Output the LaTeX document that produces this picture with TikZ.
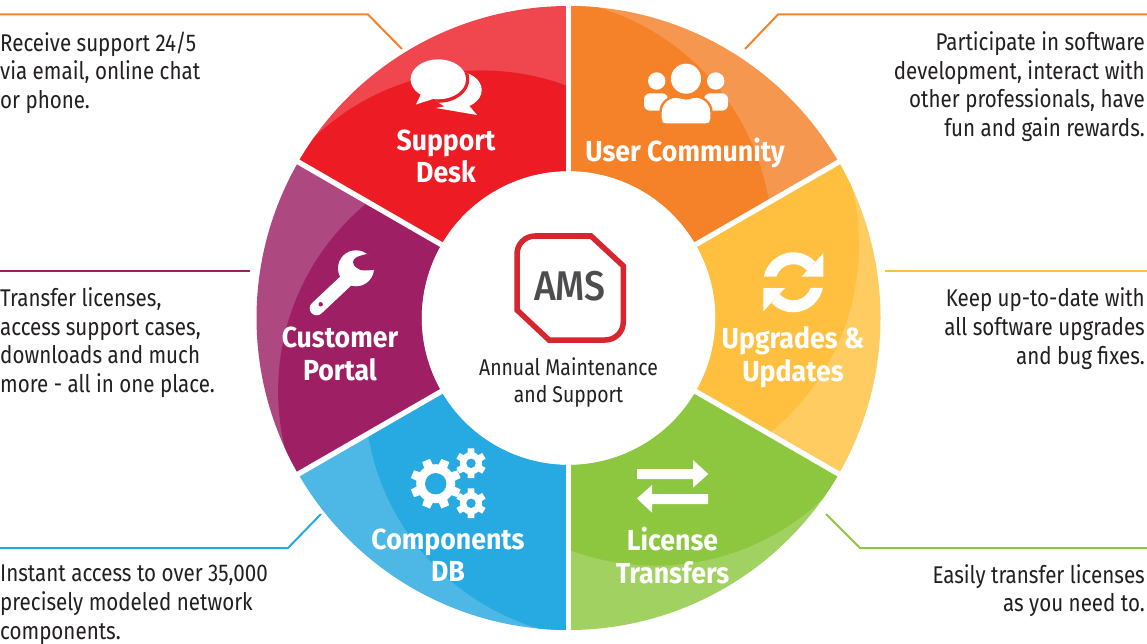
\documentclass[tikz,border=0pt]{standalone}
\usepackage{fontspec}
\setmainfont{Fira Sans}
\newfontfamily\descfont[FakeStretch=0.85]{Fira Sans}
\newfontfamily\labelfont[FakeStretch=0.92]{Fira Sans Bold}
\newfontfamily\logofont[FakeStretch=0.9]{Fira Sans Medium}
\definecolor{cred}{HTML}{ED1C24}\definecolor{lred}{HTML}{F0464E}
\definecolor{corange}{HTML}{F58229}\definecolor{lorange}{HTML}{F6974F}
\definecolor{cyellow}{HTML}{FEC03E}\definecolor{lyellow}{HTML}{FECC60}
\definecolor{cgreen}{HTML}{8DC63F}\definecolor{lgreen}{HTML}{A1D161}
\definecolor{cblue}{HTML}{27AAE1}\definecolor{lblue}{HTML}{4DB7E6}
\definecolor{cpurple}{HTML}{9E1F63}\definecolor{lpurple}{HTML}{AD4880}
\definecolor{logored}{HTML}{D8262F}\definecolor{logogrey}{HTML}{4D4D4F}
\definecolor{ink}{HTML}{231F20}
\newcommand{\ls}{\rule[-0.25em]{0pt}{0.95em}}
\newcommand{\gear}[6]{% x,y,outer,root,hole,teeth
  \begin{scope}[shift={(#1,#2)}]
    \fill[ico] (0,0) circle[radius=#4];
    \pgfmathsetmacro{\gstep}{360/#6}
    \pgfmathsetmacro{\gw}{0.21*\gstep}
    \pgfmathsetmacro{\gb}{0.32*\gstep}
    \foreach \gi in {1,...,#6}{
      \pgfmathsetmacro{\ga}{(\gi-0.5)*\gstep}
      \fill[ico,rotate=\ga] (-\gb:#4-1) -- (-\gw:#3) -- (\gw:#3) -- (\gb:#4-1) -- cycle;
    }
    \fill[cblue] (0,0) circle[radius=#5];
  \end{scope}}
\tikzset{
  desc/.style={inner sep=0pt,text=ink,font=\descfont\fontsize{24.2}{28.6}\selectfont},
  descl/.style={desc,anchor=west,align=left},
  descr/.style={desc,anchor=east,align=right},
  seglabel/.style={inner sep=0pt,text=white,align=center,font=\labelfont\fontsize{29}{32.6}\selectfont},
  leader/.style={line width=2pt},
  gapline/.style={white,line width=5.3pt},
  ico/.style={fill=white,draw=none},
}
\begin{document}
\begin{tikzpicture}[x=1pt,y=1pt,yscale=-1]
\useasboundingbox (0,0) rectangle (1147,644);
\fill[white] (0,0) rectangle (1147,644);
\coordinate (C) at (568.5,318);
% ring
\begin{scope}[shift={(C)}]
\foreach \a/\lt/\dk in {-90/lorange/corange,-30/lyellow/cyellow,30/lgreen/cgreen,90/lblue/cblue,150/lpurple/cpurple,210/lred/cred}{
  \pgfmathsetmacro{\b}{\a+60}
  \pgfmathsetmacro{\o}{\a+30-57}
  \fill[\lt] (\a:147) arc[start angle=\a,end angle=\b,radius=147] -- (\b:312) arc[start angle=\b,end angle=\a,radius=312] -- cycle;
  \begin{scope}
    \clip (\a:147) arc[start angle=\a,end angle=\b,radius=147] -- (\b:312) arc[start angle=\b,end angle=\a,radius=312] -- cycle;
    \fill[\dk] (\o:87) circle[radius=243];
  \end{scope}
}
\foreach \a in {-90,-30,30,90,150,210}{\draw[gapline] (\a:140) -- (\a:320);}
\end{scope}
% leaders
\coordinate (l1a) at (0,14.5);\coordinate (l1b) at (368,14.5);\coordinate (l1c) at (402,49);
\coordinate (l2a) at (1147,14.5);\coordinate (l2b) at (778,14.5);\coordinate (l2c) at (745,49);
\coordinate (l3a) at (0,270.5);\coordinate (l3b) at (250,270.5);
\coordinate (l4a) at (1147,270.5);\coordinate (l4b) at (885,270.5);
\coordinate (l5a) at (0,548);\coordinate (l5b) at (288,548);\coordinate (l5c) at (321,514);
\coordinate (l6a) at (1147,548);\coordinate (l6b) at (860,548);\coordinate (l6c) at (826,514);
\draw[leader,corange] (l1a) -- (l1b) -- (l1c);
\draw[leader,corange] (l2a) -- (l2b) -- (l2c);
\draw[leader,cpurple] (l3a) -- (l3b);
\draw[leader,cyellow] (l4a) -- (l4b);
\draw[leader,cblue] (l5a) -- (l5b) -- (l5c);
\draw[leader,cgreen] (l6a) -- (l6b) -- (l6c);
% descriptions
\node[descl] (d1) at (0,73) {\ls Receive support 24/5\\via email, online chat\\or phone.\ls};
\node[descl] (d3) at (0,343) {\ls Transfer licenses,\\access support cases,\\downloads and much\\more - all in one place.\ls};
\node[descl] (d5) at (0,605) {\ls Instant access to over 35,000\\precisely modeled network\\components.\ls};
\node[descr] (d2) at (1145,87) {\ls Participate in software\\development, interact with\\other professionals, have\\fun and gain rewards.\ls};
\node[descr] (d4) at (1145,329) {\ls Keep up-to-date with\\all software upgrades\\and bug fixes.\ls};
\node[descr] (d6) at (1145,591) {\ls Easily transfer licenses\\as you need to.\ls};
% segment labels
\node[seglabel] (s1) at (446,160) {\ls Support\\Desk\ls};
\node[seglabel] (s2) at (685,153) {\ls User Community\ls};
\node[seglabel] (s3) at (793,357.5) {\ls Upgrades \&\\Updates\ls};
\node[seglabel] (s4) at (340,357.5) {\ls Customer\\Portal\ls};
\node[seglabel] (s5) at (448,559) {\ls Components\\DB\ls};
\node[seglabel] (s6) at (672.5,559) {\ls License\\Transfers\ls};
% chat icon
\fill[ico] (456.7,90) ellipse[x radius=25,y radius=18.5];
\fill[ico] (436,108) -- (477,115) -- (466,102) -- cycle;
\begin{scope}
  \clip (456.7,90) ellipse[x radius=25,y radius=18.5] (436,108) -- (477,115) -- (466,102) -- cycle;
  \fill[cred] (438.3,79.3) ellipse[x radius=31,y radius=23.5];
\end{scope}
\fill[ico] (438.3,79.3) ellipse[x radius=27.7,y radius=20];
\fill[ico] (422,92) -- (416,104.5) -- (436,98) -- cycle;
% users icon
\fill[ico] (656.7,81) circle[radius=8.7];
\fill[ico] (715.7,81) circle[radius=8.7];
\fill[ico] (686,78.7) circle[radius=15];
\fill[ico,rounded corners=6pt] (644,110.7) -- (644,93.3) -- (668,93.3) -- (668,110.7) -- cycle;
\fill[ico,rounded corners=6pt] (704,110.7) -- (704,93.3) -- (728,93.3) -- (728,110.7) -- cycle;
\path[fill=white,draw=corange,line width=2.4pt] (665.5,124.5) .. controls (662,124.5) and (660.5,122) .. (660.5,119) -- (660.5,112) .. controls (660.5,102) and (670,96.5) .. (676,96.5) .. controls (680,96.5) and (683,98.5) .. (686,98.5) .. controls (689,98.5) and (692,96.5) .. (696,96.5) .. controls (702,96.5) and (711.5,102) .. (711.5,112) -- (711.5,119) .. controls (711.5,122) and (710,124.5) .. (706.5,124.5) -- cycle;
% sync icon
\foreach \r in {0,180}{
  \begin{scope}[shift={(793.3,282.3)},rotate=\r]
    \fill[ico] (-29.4,-5.7) arc[start angle=191,end angle=316,radius=30] -- (13.8,-11.6) arc[start angle=-40,end angle=-162,radius=18] -- cycle;
    \fill[ico] (30,-29) -- (30,-5.7) -- (8.3,-5.7) -- cycle;
  \end{scope}
}
% transfer arrows icon
\fill[ico] (637,469) -- (693,469) -- (693,460) -- (708.3,474) -- (693,487.7) -- (693,479) -- (637,479) -- cycle;
\fill[ico] (708,494) -- (652,494) -- (652,485) -- (637,498.5) -- (652,512.7) -- (652,504) -- (708,504) -- cycle;
% gears icon
\gear{435.7}{483.7}{25.5}{19.5}{10.7}{8}
\gear{471}{463.3}{15.3}{11.2}{4.7}{6}
\gear{471}{503.3}{15.3}{11.2}{4.7}{6}
% wrench icon
\draw[white,line width=14pt,line cap=round] (316.7,308.3) -- (350,277);
\fill[ico] (356,268.3) circle[radius=18];
\fill[cpurple] (353,262) .. controls (353,258) and (358,256) .. (367,254) -- (378,262) -- (373.5,270) .. controls (368,270) and (361,272) .. (357,268) .. controls (354,266) and (353,264) .. (353,262) -- cycle;
\fill[cpurple] (320.7,304.3) circle[radius=2.2];
% logo
\draw[logored,line width=5.5pt,line join=miter] (591,236) -- (623.3,266) -- (623.3,322) arc[start angle=0,end angle=90,radius=18] -- (549,340) -- (517,310) -- (517,254) arc[start angle=180,end angle=270,radius=18] -- cycle;
\node[inner sep=0pt,text=logogrey,font=\logofont\fontsize{41.5}{42}\selectfont] (ams) at (569.8,285.7) {AMS};
\node[inner sep=0pt,text=ink,align=center,font=\descfont\fontsize{22.8}{27}\selectfont] (sub) at (568.5,383) {\ls Annual Maintenance\\and Support\ls};
\end{tikzpicture}
\end{document}
